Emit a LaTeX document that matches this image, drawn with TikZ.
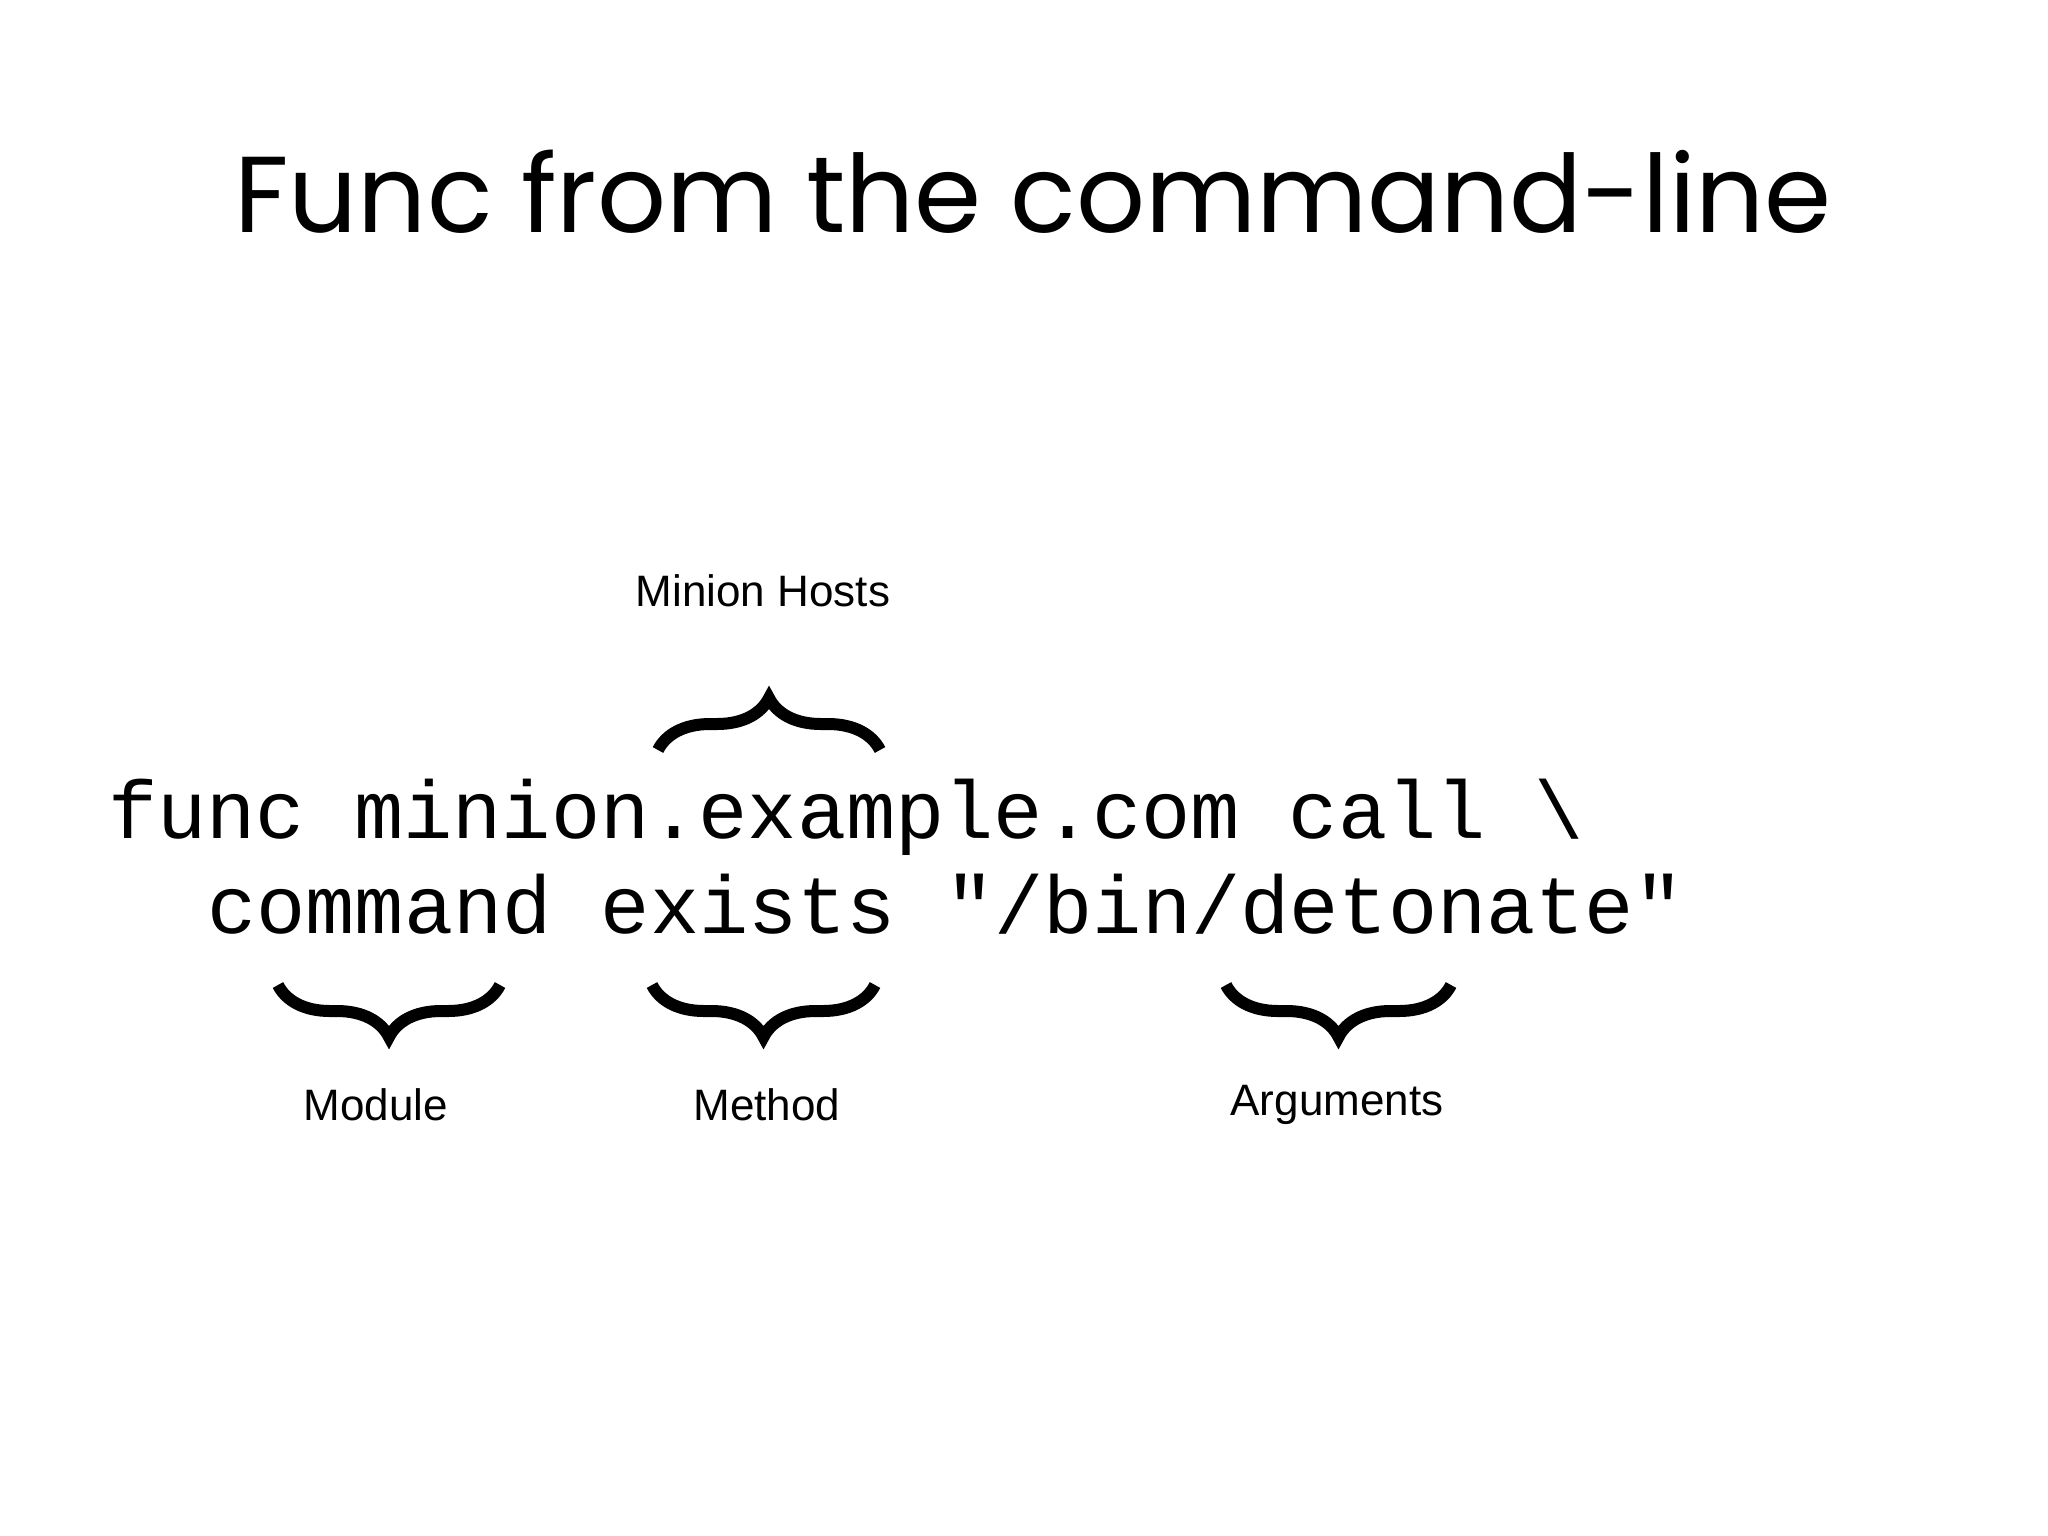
\documentclass[tikz,border=0pt]{standalone}
\usepackage{fontspec}
\setmainfont{Liberation Sans}
\newfontfamily\titlefont{Poppins}
\newfontfamily\codefont{Liberation Mono}
\usetikzlibrary{decorations.pathreplacing}
\begin{document}
\begin{tikzpicture}[x=1pt,y=-1pt,
  lbl/.style={font=\fontsize{44}{48}\selectfont, inner sep=0},
  code/.style={font=\codefont\fontsize{82}{90}\selectfont, inner sep=0, anchor=base west},
  brc/.style={decorate, decoration={brace, amplitude=52pt}, line width=12pt}]
\useasboundingbox[fill=white] (0,0) rectangle (2048,1535);
\node[font=\titlefont\fontsize{108}{116}\selectfont, inner sep=0] (title) at (1033,192) {Func from the command-line};
\node[code] (l1) at (108,838) {func minion.example.com call \textbackslash};
\node[code] (l2) at (207,933) {command exists "/bin/detonate"};
\node[lbl] (hosts) at (763,591) {Minion Hosts};
\node[lbl] (mod) at (376,1105) {Module};
\node[lbl] (meth) at (767,1105) {Method};
\node[lbl] (args) at (1337,1105) {Arguments};
\coordinate (h1) at (658,750); \coordinate (h2) at (880,750);
\coordinate (m1) at (278,985); \coordinate (m2) at (500,985);
\coordinate (t1) at (652,985); \coordinate (t2) at (875,985);
\coordinate (a1) at (1226,985); \coordinate (a2) at (1451,985);
\draw[brc] (h1) -- (h2);
\draw[brc] (m2) -- (m1);
\draw[brc] (t2) -- (t1);
\draw[brc] (a2) -- (a1);
\end{tikzpicture}
\end{document}
